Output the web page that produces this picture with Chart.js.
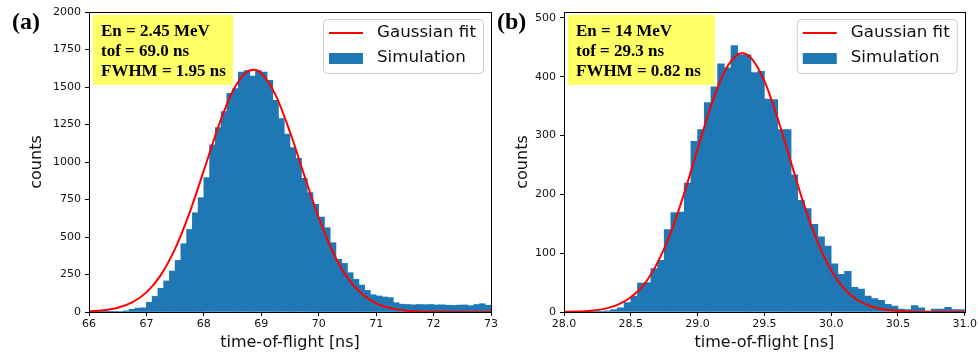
<!DOCTYPE html>
<html><head><meta charset="utf-8">
<script src="https://cdn.jsdelivr.net/npm/chart.js@4.4.1/dist/chart.umd.min.js"></script>
<style>
html,body{margin:0;padding:0;background:#fff;}
#wrap{position:relative;width:979px;height:354px;overflow:hidden;background:#fff;}
#ca{position:absolute;left:0;top:0;}
#cb{position:absolute;left:490px;top:0;}
</style></head><body>
<div id="wrap">
<canvas id="ca" width="500" height="354"></canvas>
<canvas id="cb" width="489" height="354"></canvas>
</div>
<script>
// ---------- Panel (a): En = 2.45 MeV ----------
const binStartA = 66.0;
const binWidthA = 0.1;
const countsA = [0,1,1,2,2,3,8,18,26,28,
  65,104,158,207,273,344,455,550,662,762,
  896,1115,1229,1336,1458,1490,1600,1610,1572,1610,
  1600,1545,1411,1290,1186,1096,1024,891,796,718,
  633,562,462,351,324,262,218,180,144,115,
  107,100,96,62,52,50,48,50,49,50,
  47,48,45,44,46,47,42,50,55,45];
const fitXA = [66.0,66.25,66.5,66.75,67.0,67.25,67.5,67.75,68.0,68.25,68.5,68.75,68.875,69.0,69.25,69.5,69.75,70.0,70.25,70.5,70.75,71.0,71.25,71.5,71.75,72.0,72.5,73.0];
const fitYA = [4,11,28,64,131,246,422,661,944,1233,1470,1601,1615,1592,1446,1200,909,629,397,229,121,58,26,10,4,1,0,0];
const xTicksA = [66,67,68,69,70,71,72,73];
const yTicksA = [0,250,500,750,1000,1250,1500,1750,2000];
const infoA = ['En = 2.45 MeV','tof = 69.0 ns','FWHM = 1.95 ns'];

// ---------- Panel (b): En = 14 MeV ----------
const binStartB = 28.0;
const binWidthB = 0.05;
const countsB = [0,0,0,0,1,1,2,4,7,16,
  27,49,50,74,88,140,169,170,219,290,
  310,356,383,422,415,453,437,437,407,409,
  362,361,310,310,233,190,176,149,128,112,
  82,64,69,42,39,27,23,20,13,10,
  5,4,11,7,2,5,5,8,4,4];
const fitXB = [28.0,28.1,28.2,28.3,28.4,28.5,28.6,28.7,28.8,28.9,29.0,29.1,29.2,29.3,29.335,29.4,29.5,29.6,29.7,29.8,29.9,30.0,30.1,30.2,30.3,30.4,30.5,30.6,30.7,30.8,30.9,31.0];
const fitYB = [0.3,0.8,2.2,5.3,12,25,47,84,135,202,277,350,408,438,440,432,393,329,254,180,118,71,39,20,9.4,4.1,1.6,0.6,0.2,0.1,0,0];
const xTicksB = [28.0,28.5,29.0,29.5,30.0,30.5,31.0];
const yTicksB = [0,100,200,300,400,500];
const infoB = ['En = 14 MeV','tof = 29.3 ns','FWHM = 0.82 ns'];

const seriesNames = ['Gaussian fit','Simulation'];
const xTitle = 'time-of-flight [ns]';
const yTitle = 'counts';

// ---------- drawing helpers ----------
const BLUE = '#1f77b4', RED = '#ff0000';
const SANS = '"DejaVu Sans", sans-serif';
const SERIF = '"Liberation Serif", "Times New Roman", serif';

function roundRect(ctx, x, y, w, h, r) {
  ctx.beginPath();
  ctx.moveTo(x + r, y);
  ctx.lineTo(x + w - r, y); ctx.arcTo(x + w, y, x + w, y + r, r);
  ctx.lineTo(x + w, y + h - r); ctx.arcTo(x + w, y + h, x + w - r, y + h, r);
  ctx.lineTo(x + r, y + h); ctx.arcTo(x, y + h, x, y + h - r, r);
  ctx.lineTo(x, y + r); ctx.arcTo(x, y, x + r, y, r);
  ctx.closePath();
}

const decoPlugin = {
  id: 'deco',
  afterDraw(chart, args, o) {
    const ctx = chart.ctx;
    const a = chart.chartArea;
    ctx.save();
    // info box
    ctx.fillStyle = '#ffff66';
    ctx.fillRect(a.left + 4, a.top + 3, o.boxW, 70);
    ctx.fillStyle = '#000';
    ctx.font = 'bold 17px ' + SERIF;
    ctx.textBaseline = 'alphabetic';
    ctx.textAlign = 'left';
    o.info.forEach((t, i) => ctx.fillText(t, a.left + 12, a.top + 24 + i * 20));
    // legend
    const lw = 160, lh = 54;
    const lx = a.right - 8 - lw, ly = a.top + 7;
    roundRect(ctx, lx + 0.5, ly + 0.5, lw, lh, 4);
    ctx.fillStyle = 'rgba(255,255,255,0.8)';
    ctx.fill();
    ctx.strokeStyle = '#cccccc';
    ctx.lineWidth = 1;
    ctx.stroke();
    ctx.strokeStyle = RED; ctx.lineWidth = 2;
    ctx.beginPath(); ctx.moveTo(lx + 6, ly + 14); ctx.lineTo(lx + 40, ly + 14); ctx.stroke();
    ctx.fillStyle = BLUE;
    ctx.fillRect(lx + 6, ly + 34, 34, 11);
    ctx.fillStyle = '#111';
    ctx.font = '16.7px ' + SANS;
    ctx.textBaseline = 'middle';
    ctx.fillText(o.names[0], lx + 54, ly + 14);
    ctx.fillText(o.names[1], lx + 54, ly + 39);
    // frame
    ctx.strokeStyle = '#000'; ctx.lineWidth = 1;
    ctx.strokeRect(Math.round(a.left) + 0.5, Math.round(a.top) + 0.5, Math.round(a.right - a.left), Math.round(a.bottom - a.top));
    // panel letter
    ctx.fillStyle = '#000';
    ctx.font = 'bold 24px ' + SERIF;
    ctx.textBaseline = 'middle';
    ctx.fillText(o.panel, o.panelX, 23);
    ctx.restore();
  }
};

function makeChart(el, p) {
  const bars = p.counts.map((c, i) => ({x: p.start + (i + 0.5) * p.width, y: c}));
  const fit = p.fitX.map((x, i) => ({x: x, y: p.fitY[i]}));
  const tickFont = {family: SANS, size: 11};
  return new Chart(el, {
    type: 'bar',
    data: {datasets: [
      {type: 'line', label: seriesNames[0], data: fit, borderColor: RED, borderWidth: 2,
       pointRadius: 0, cubicInterpolationMode: 'monotone', fill: false, order: 0},
      {type: 'bar', label: seriesNames[1], data: bars, backgroundColor: BLUE, borderWidth: 0,
       barPercentage: 1, categoryPercentage: 1, grouped: false, order: 1}
    ]},
    options: {
      responsive: false, animation: false, events: [],
      layout: {padding: p.padding},
      plugins: {legend: {display: false}, tooltip: {enabled: false},
        deco: {info: p.info, names: seriesNames, boxW: p.boxW, panel: p.panel, panelX: p.panelX}},
      scales: {
        x: {type: 'linear', min: p.xTicks[0], max: p.xTicks[p.xTicks.length - 1], offset: false,
          afterBuildTicks: s => { s.ticks = p.xTicks.map(v => ({value: v})); },
          ticks: {font: tickFont, color: '#111', padding: 2, maxRotation: 0, autoSkip: false,
            callback: v => p.xFmt(v)},
          grid: {display: true, drawOnChartArea: false, drawTicks: true, tickLength: 4, color: '#000', offset: false},
          border: {display: false},
          title: {display: true, text: xTitle, color: '#111', font: {family: SANS, size: 16}, padding: {top: 0, bottom: 2}},
          afterFit: s => { s.height = 42; }
        },
        y: {type: 'linear', min: 0, max: p.yMax,
          afterBuildTicks: s => { s.ticks = p.yTicks.map(v => ({value: v})); },
          ticks: {font: tickFont, color: '#111', padding: 4, autoSkip: false, callback: v => String(v)},
          grid: {display: true, drawOnChartArea: false, drawTicks: true, tickLength: 4, color: '#000'},
          border: {display: false},
          title: {display: true, text: yTitle, color: '#111', font: {family: SANS, size: 16}, padding: {top: p.yTitlePad, bottom: 0}},
          afterFit: s => { s.width = p.yAxisW; }
        }
      }
    },
    plugins: [decoPlugin]
  });
}

makeChart(document.getElementById('ca'), {
  counts: countsA, start: binStartA, width: binWidthA, fitX: fitXA, fitY: fitYA,
  xTicks: xTicksA, yTicks: yTicksA, yMax: 2000, info: infoA, boxW: 140,
  panel: '(a)', panelX: 12, xFmt: v => String(v),
  padding: {left: 0, right: 9, top: 12, bottom: 0}, yAxisW: 89, yTitlePad: 27
});
makeChart(document.getElementById('cb'), {
  counts: countsB, start: binStartB, width: binWidthB, fitX: fitXB, fitY: fitYB,
  xTicks: xTicksB, yTicks: yTicksB, yMax: 510, info: infoB, boxW: 147,
  panel: '(b)', panelX: 7, xFmt: v => v.toFixed(1),
  padding: {left: 0, right: 13, top: 12, bottom: 0}, yAxisW: 74, yTitlePad: 23
});
</script>
</body></html>
